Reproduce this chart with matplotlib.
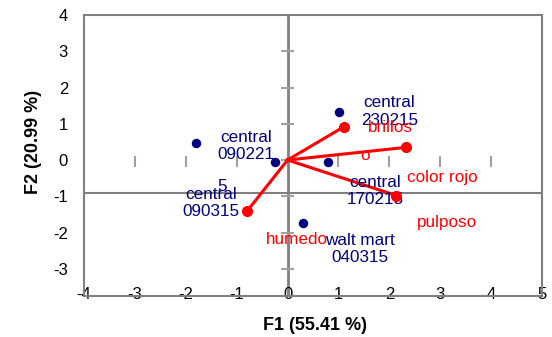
import matplotlib.pyplot as plt

plt.rcParams['font.family'] = ['Liberation Sans', 'DejaVu Sans']
plt.rcParams['axes.unicode_minus'] = False

# observations (PCA scores)
obs_f1 = [-1.79, -0.25, 1.02, 0.80, 0.30]
obs_f2 = [0.46, -0.06, 1.32, -0.05, -1.75]

# variables (loadings, drawn as vectors from the origin)
var_f1 = [1.11, 2.33, 2.14, -0.79]
var_f2 = [0.92, 0.35, -0.98, -1.40]

# label texts as they are laid out in the original chart
obs_labels = ['central\n230215', 'central\n090221', '5', 'central\n090315',
              'central\n170215', 'walt mart\n040315']
var_labels = ['brillos', 'o', 'color rojo', 'pulposo', 'humedo']

# label anchor positions (data coords)
obs_label_pos = [(2.00, 1.79, 'top'), (-0.81, 0.83, 'top'), (-1.28, -0.52, 'top'),
                 (-1.50, -0.745, 'top'), (1.72, -0.41, 'top'), (1.42, -2.01, 'top')]
var_label_pos = [(2.03, 1.10, 'top'), (1.52, 0.0, 'baseline'), (3.05, -0.28, 'top'),
                 (3.13, -1.52, 'top'), (0.185, -1.99, 'top')]

xticks = list(range(-4, 6))
yticks = list(range(-3, 5))

navy = '#000080'
red = '#ff0000'
grey = '#808080'

fig = plt.figure(figsize=(5.52, 3.37), dpi=100)
ax = fig.add_axes([84 / 552, 41 / 337, 458 / 552, 281 / 337])
ax.set_xlim(-4, 5)
ax.set_ylim(-3.75, 4)

for s in ax.spines.values():
    s.set_color(grey)
    s.set_linewidth(1.5)

ax.set_xticks(xticks)
ax.set_yticks(yticks)
ax.tick_params(axis='x', length=0, pad=-6.5, labelsize=12)
ax.tick_params(axis='y', length=0, pad=11.5, labelsize=12)

# inner axis lines and their little tick marks
ax.axvline(0, color=grey, lw=2, zorder=1)
ax.axhline(-0.9, color=grey, lw=1.5, zorder=1)
ax.vlines([x for x in xticks if x not in (-4, 0, 5)], -0.19, 0.1, color='#a0a0a0', lw=1.5, zorder=1)
ax.hlines([y for y in yticks if -3 <= y <= 3], -0.12, 0.12, color='#a0a0a0', lw=1.5, zorder=1)

# observations
ax.plot(obs_f1, obs_f2, 'o', color=navy, ms=5.8, ls='none', zorder=3)
for txt, (x, y, va) in zip(obs_labels, obs_label_pos):
    ax.text(x, y, txt, color=navy, fontsize=12.3, ha='center', va=va, zorder=4)

# variable vectors
for f1, f2 in zip(var_f1, var_f2):
    ax.plot([0, f1], [0, f2], color=red, lw=2.2, zorder=3)
ax.plot(var_f1, var_f2, 'o', color=red, ms=7, ls='none', zorder=5)
for txt, (x, y, va) in zip(var_labels, var_label_pos):
    ax.text(x, y, txt, color=red, fontsize=12.3, ha='center', va=va, zorder=5)

fig.text(315 / 552, 1 - 325 / 337, 'F1 (55.41 %)', ha='center', va='center',
         fontsize=13, fontweight='bold')
fig.text(33 / 552, 1 - 142 / 337, 'F2 (20.99 %)', ha='center', va='center',
         rotation=90, fontsize=13, fontweight='bold')

fig.savefig('out.png', dpi=100)
